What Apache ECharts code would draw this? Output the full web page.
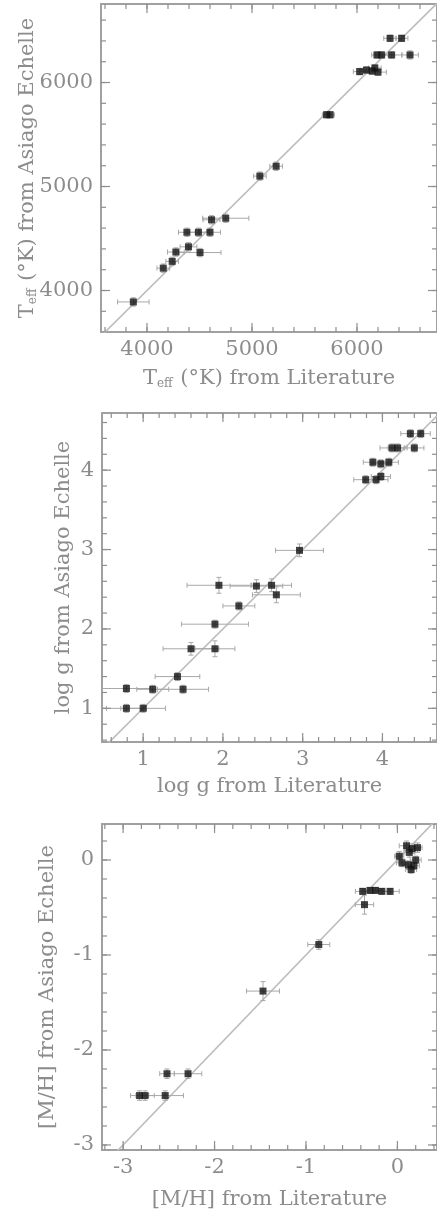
<!DOCTYPE html>
<html>
<head>
<meta charset="utf-8">
<script src="https://cdn.jsdelivr.net/npm/echarts@6/dist/echarts.min.js"></script>
<style>
  html, body { margin: 0; padding: 0; background: #fff; }
  #chart { width: 437px; height: 1214px; }
</style>
</head>
<body>
<div id="chart"></div>
<script>
// ---- Effective temperature (K) ----
const teffLiterature = [3870, 4155, 4240, 4275, 4395, 4505, 4380, 4490, 4600, 4615, 4750, 5075, 5230, 5710, 5745, 6025, 6090, 6145, 6170, 6200, 6190, 6235, 6330, 6505, 6315, 6425];
const teffAsiago     = [3890, 4215, 4280, 4370, 4420, 4365, 4560, 4560, 4560, 4680, 4695, 5100, 5195, 5690, 5690, 6105, 6120, 6110, 6140, 6100, 6265, 6265, 6265, 6265, 6425, 6425];
const teffLitErr     = [150, 60, 60, 80, 80, 200, 80, 100, 100, 80, 220, 60, 60, 40, 40, 60, 60, 80, 60, 80, 50, 60, 100, 80, 60, 60];
const teffAsiagoErr  = [40, 40, 40, 40, 40, 40, 40, 40, 40, 40, 40, 40, 40, 30, 30, 30, 30, 30, 30, 30, 30, 30, 30, 40, 30, 30];
const teffTicks = [4000, 5000, 6000];

// ---- Surface gravity (log g) ----
const loggLiterature = [0.79, 1.00, 0.79, 1.12, 1.43, 1.50, 1.60, 1.90, 1.90, 2.20, 1.95, 2.42, 2.61, 2.67, 2.96, 3.79, 3.92, 3.98, 3.88, 3.98, 4.08, 4.12, 4.19, 4.40, 4.35, 4.48];
const loggAsiago     = [1.00, 1.00, 1.25, 1.24, 1.40, 1.24, 1.75, 1.75, 2.06, 2.29, 2.55, 2.54, 2.55, 2.43, 2.99, 3.88, 3.88, 3.92, 4.10, 4.08, 4.10, 4.28, 4.28, 4.28, 4.46, 4.46];
const loggLitErr     = [0.25, 0.28, 0.30, 0.20, 0.28, 0.32, 0.35, 0.25, 0.42, 0.20, 0.40, 0.33, 0.25, 0.30, 0.30, 0.15, 0.15, 0.12, 0.12, 0.12, 0.12, 0.15, 0.12, 0.12, 0.12, 0.12];
const loggAsiagoErr  = [0.05, 0.05, 0.05, 0.05, 0.05, 0.05, 0.08, 0.10, 0.05, 0.05, 0.10, 0.08, 0.08, 0.10, 0.08, 0.05, 0.05, 0.05, 0.05, 0.05, 0.05, 0.05, 0.05, 0.05, 0.05, 0.05];
const loggTicks = [1, 2, 3, 4];

// ---- Metallicity [M/H] ----
const mhLiterature = [-2.82, -2.76, -2.54, -2.52, -2.29, -1.47, -0.86, -0.36, -0.38, -0.30, -0.24, -0.17, -0.08, 0.02, 0.10, 0.16, 0.22, 0.13, 0.05, 0.12, 0.18, 0.15, 0.20];
const mhAsiago     = [-2.48, -2.48, -2.48, -2.25, -2.25, -1.38, -0.89, -0.47, -0.33, -0.32, -0.32, -0.33, -0.33, 0.04, 0.15, 0.12, 0.13, 0.08, -0.03, -0.05, -0.06, -0.10, 0.00];
const mhLitErr     = [0.10, 0.10, 0.20, 0.08, 0.15, 0.18, 0.12, 0.10, 0.08, 0.08, 0.08, 0.08, 0.10, 0.05, 0.08, 0.08, 0.05, 0.06, 0.06, 0.06, 0.06, 0.06, 0.06];
const mhAsiagoErr  = [0.05, 0.05, 0.05, 0.05, 0.05, 0.10, 0.05, 0.10, 0.03, 0.03, 0.03, 0.03, 0.03, 0.05, 0.05, 0.05, 0.05, 0.05, 0.04, 0.04, 0.04, 0.04, 0.04];
const mhTicks = [-3, -2, -1, 0];

const FONT = 'DejaVu Serif';
const TEXT_COLOR = '#8c8c8c';
const FRAME_COLOR = '#a0a0a0';
const TICK_COLOR = '#8f8f8f';

const panels = [
  {
    grid: { left: 101, top: 4, width: 337, height: 328 },
    xRange: [3562, 6762], yRange: [3601, 6755],
    ticks: teffTicks, minorStep: 200,
    xName: '{a|T}{s|eff}{a| (°K) from Literature}',
    yName: '{a|T}{s|eff}{a| (°K) from Asiago Echelle}',
    xGap: 36, yGap: 62,
    lit: teffLiterature, ech: teffAsiago, litErr: teffLitErr, echErr: teffAsiagoErr
  },
  {
    grid: { left: 102, top: 413, width: 336, height: 329 },
    xRange: [0.484, 4.684], yRange: [0.576, 4.72],
    ticks: loggTicks, minorStep: 0.2,
    xName: '{a|log g from Literature}',
    yName: '{a|log g from Asiago Echelle}',
    xGap: 34, yGap: 28,
    lit: loggLiterature, ech: loggAsiago, litErr: loggLitErr, echErr: loggAsiagoErr
  },
  {
    grid: { left: 102, top: 824, width: 336, height: 326 },
    xRange: [-3.231, 0.433], yRange: [-3.053, 0.379],
    ticks: mhTicks, minorStep: 0.2,
    xName: '{a|[M/H] from Literature}',
    yName: '{a|[M/H] from Asiago Echelle}',
    xGap: 39, yGap: 44,
    lit: mhLiterature, ech: mhAsiago, litErr: mhLitErr, echErr: mhAsiagoErr
  }
];

function minorValues(range, step) {
  const out = [];
  const start = Math.ceil(range[0] / step - 1e-9);
  for (let k = start; k * step <= range[1] + 1e-9; k++) {
    out.push(+(k * step).toFixed(6));
  }
  return out;
}

const nameRich = {
  a: { fontFamily: FONT, fontSize: 21, color: TEXT_COLOR },
  s: { fontFamily: FONT, fontSize: 12, color: TEXT_COLOR, padding: [10, 1, 0, 0] }
};

function buildAxes(dim, gi, p) {
  const range = dim === 'x' ? p.xRange : p.yRange;
  const sides = dim === 'x' ? ['bottom', 'top'] : ['left', 'right'];
  return sides.map((side, si) => {
    const axis = {
      gridIndex: gi, type: 'value', min: range[0], max: range[1], position: side,
      splitLine: { show: false },
      axisLine: { show: true, onZero: false, lineStyle: { color: FRAME_COLOR, width: 2 } },
      axisTick: { show: false },
      axisLabel: si === 0 ? {
        show: true, customValues: p.ticks, margin: dim === 'x' ? 7 : 8,
        fontFamily: FONT, fontSize: 21, color: TEXT_COLOR,
        formatter: v => String(v)
      } : { show: false }
    };
    if (si === 0) {
      Object.assign(axis, {
        name: dim === 'x' ? p.xName : p.yName,
        nameLocation: 'middle',
        nameGap: dim === 'x' ? p.xGap : p.yGap,
        nameMoveOverlap: false,
        nameTextStyle: { rich: nameRich }
      });
    }
    return axis;
  });
}

// Inward tick marks on all four sides of a panel frame.
// kind: 0 = x major, 1 = x minor, 2 = y major, 3 = y minor
function renderTicks(params, api) {
  const cs = params.coordSys;
  const kind = api.value(2);
  const len = (kind === 0 || kind === 2) ? 9 : 5;
  const style = { stroke: TICK_COLOR, lineWidth: 1.2 };
  const pt = api.coord([api.value(0), api.value(1)]);
  const seg = (x1, y1, x2, y2) => ({ type: 'line', shape: { x1, y1, x2, y2 }, style });
  if (kind < 2) {
    const x = pt[0];
    return { type: 'group', children: [
      seg(x, cs.y + cs.height, x, cs.y + cs.height - len),
      seg(x, cs.y, x, cs.y + len)
    ] };
  }
  const y = pt[1];
  return { type: 'group', children: [
    seg(cs.x, y, cs.x + len, y),
    seg(cs.x + cs.width, y, cs.x + cs.width - len, y)
  ] };
}

function renderErrorBar(params, api) {
  const x = api.value(0), y = api.value(1), ex = api.value(2), ey = api.value(3);
  const l = api.coord([x - ex, y]), r = api.coord([x + ex, y]);
  const b = api.coord([x, y - ey]), t = api.coord([x, y + ey]);
  const cap = 2.5;
  const style = { stroke: '#a8a8a8', lineWidth: 1 };
  const seg = (x1, y1, x2, y2) => ({ type: 'line', shape: { x1, y1, x2, y2 }, style });
  return {
    type: 'group',
    children: [
      seg(l[0], l[1], r[0], r[1]),
      seg(l[0], l[1] - cap, l[0], l[1] + cap),
      seg(r[0], r[1] - cap, r[0], r[1] + cap),
      seg(b[0], b[1], t[0], t[1]),
      seg(b[0] - cap, b[1], b[0] + cap, b[1]),
      seg(t[0] - cap, t[1], t[0] + cap, t[1])
    ]
  };
}

const grids = [], xAxes = [], yAxes = [], series = [];
panels.forEach((p, gi) => {
  grids.push(Object.assign({ containLabel: false }, p.grid));
  const xi = xAxes.length, yi = yAxes.length;
  xAxes.push(...buildAxes('x', gi, p));
  yAxes.push(...buildAxes('y', gi, p));

  // tick marks
  const tickRows = [];
  p.ticks.forEach(v => tickRows.push([v, p.yRange[0], 0]));
  minorValues(p.xRange, p.minorStep).forEach(v => tickRows.push([v, p.yRange[0], 1]));
  p.ticks.forEach(v => tickRows.push([p.xRange[0], v, 2]));
  minorValues(p.yRange, p.minorStep).forEach(v => tickRows.push([p.xRange[0], v, 3]));
  series.push({
    type: 'custom', xAxisIndex: xi, yAxisIndex: yi, silent: true,
    data: tickRows, encode: { x: 0, y: 1 }, renderItem: renderTicks, clip: false, z: 5
  });

  // one-to-one reference line
  const lo = Math.min(p.xRange[0], p.yRange[0]);
  const hi = Math.max(p.xRange[1], p.yRange[1]);
  series.push({
    type: 'line', xAxisIndex: xi, yAxisIndex: yi,
    data: [[lo, lo], [hi, hi]], symbol: 'none', silent: true, clip: true,
    lineStyle: { color: '#bdbdbd', width: 1.6 }, z: 1
  });

  const rows = p.lit.map((v, k) => [v, p.ech[k], p.litErr[k], p.echErr[k]]);
  series.push({
    type: 'custom', xAxisIndex: xi, yAxisIndex: yi,
    data: rows, encode: { x: 0, y: 1 }, renderItem: renderErrorBar, clip: true, z: 2
  });
  series.push({
    type: 'scatter', xAxisIndex: xi, yAxisIndex: yi,
    data: rows.map(r => [r[0], r[1]]), symbol: 'rect', symbolSize: 7,
    itemStyle: { color: '#111' }, z: 3
  });
});

const chart = echarts.init(document.getElementById('chart'), null, { renderer: 'canvas' });
chart.setOption({
  animation: false,
  backgroundColor: '#fff',
  grid: grids,
  xAxis: xAxes,
  yAxis: yAxes,
  series: series
});
</script>
</body>
</html>
